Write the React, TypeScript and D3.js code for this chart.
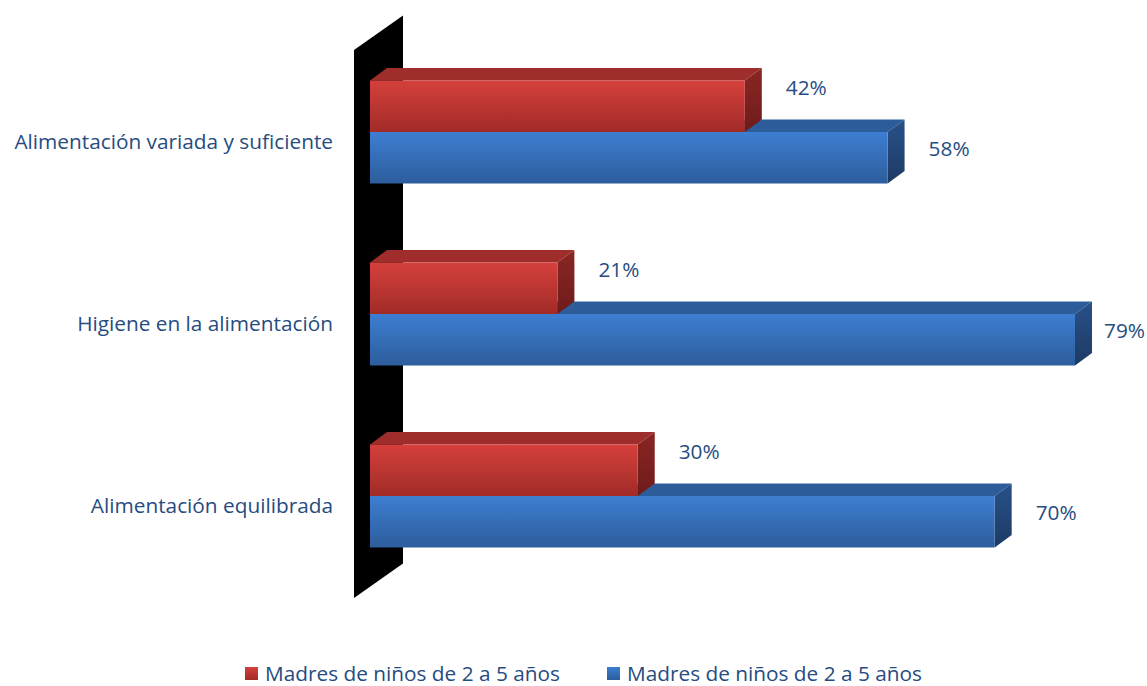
import React from "react";
import * as d3 from "d3";

const categories = [
  "Alimentación variada y suficiente",
  "Higiene en la alimentación",
  "Alimentación equilibrada",
];
const seriesNames = ["Madres de niños de 2 a 5 años", "Madres de niños de 2 a 5 años"];
const redValues = [42, 21, 30];
const blueValues = [58, 79, 70];

const W = 1147;
const H = 686;
const FONT = "'Open Sans', Lato, sans-serif";
const TEXT = "#264C80";
const FS = 20.8;

export default function App() {
  const x = d3.scaleLinear().domain([0, 100]).range([370, 1262.4]);
  const yBand = d3.scaleBand<string>().domain(categories).range([50, 596]).padding(0);
  const DX = 17;
  const DY = 12.5;
  const barH = 51.5;
  const wall = { xf: 354, xb: 403, yTopF: 50, yBotF: 598, dy: 34.5 };

  const series = [
    { values: redValues, grad: "gRed", top: "#9E2D2B", side: "gRedSide", offset: 0, labelDy: -17 },
    { values: blueValues, grad: "gBlue", top: "#2C5C99", side: "gBlueSide", offset: 1, labelDy: -7 },
  ];

  const x0 = x(0);

  return (
    <svg width={W} height={H} style={{ display: "block", position: "absolute", left: 0, top: 0 }}>
      <defs>
        <linearGradient id="gRed" x1="0" y1="0" x2="0" y2="1">
          <stop offset="0" stopColor="#D5403C" />
          <stop offset="1" stopColor="#A12B28" />
        </linearGradient>
        <linearGradient id="gBlue" x1="0" y1="0" x2="0" y2="1">
          <stop offset="0" stopColor="#3D7ED1" />
          <stop offset="1" stopColor="#2D5D9C" />
        </linearGradient>
        <linearGradient id="gRedSide" x1="0" y1="0" x2="0" y2="1">
          <stop offset="0" stopColor="#8A2624" />
          <stop offset="1" stopColor="#6E1C1B" />
        </linearGradient>
        <linearGradient id="gBlueSide" x1="0" y1="0" x2="0" y2="1">
          <stop offset="0" stopColor="#285189" />
          <stop offset="1" stopColor="#1D3A64" />
        </linearGradient>
      </defs>
      <rect width={W} height={H} fill="#fff" />

      <polygon
        points={`${wall.xf},${wall.yTopF} ${wall.xb},${wall.yTopF - wall.dy} ${wall.xb},${wall.yBotF - wall.dy} ${wall.xf},${wall.yBotF}`}
        fill="#000"
      />

      {categories.map((c) => (
        <text
          key={c}
          x={333}
          y={(yBand(c) as number) + yBand.bandwidth() / 2 + 2}
          textAnchor="end"
          dominantBaseline="middle"
          fontFamily={FONT}
          fontSize={FS}
          fill={TEXT}
        >
          {c}
        </text>
      ))}

      {categories.map((c, i) => {
        const center = (yBand(c) as number) + yBand.bandwidth() / 2 - 9;
        const groupTop = center - barH;
        return (
          <g key={c}>
            {series
              .slice()
              .reverse()
              .map((s) => {
                const v = s.values[i];
                const y0 = groupTop + s.offset * barH;
                const y1 = y0 + barH;
                const xe = x(v);
                return (
                  <g key={s.grad}>
                    <polygon
                      points={`${x0},${y0} ${x0 + DX},${y0 - DY} ${xe + DX},${y0 - DY} ${xe},${y0}`}
                      fill={s.top}
                    />
                    <polygon
                      points={`${xe},${y0} ${xe + DX},${y0 - DY} ${xe + DX},${y1 - DY} ${xe},${y1}`}
                      fill={`url(#${s.side})`}
                    />
                    <rect x={x0} y={y0} width={xe - x0} height={barH} fill={`url(#${s.grad})`} />
                  </g>
                );
              })}
            {series.map((s) => {
              const v = s.values[i];
              const y0 = groupTop + s.offset * barH;
              const lx = Math.min(x(v) + DX + 24, W - 43);
              return (
                <text
                  key={"l" + s.grad}
                  x={lx}
                  y={y0 + barH / 2 + s.labelDy}
                  dominantBaseline="middle"
                  fontFamily={FONT}
                  fontSize={FS}
                  fill={TEXT}
                >
                  {v}%
                </text>
              );
            })}
          </g>
        );
      })}

      {[0, 1].map((k) => {
        const lx = k === 0 ? 245 : 607;
        return (
          <g key={k}>
            <rect x={lx} y={667} width={13} height={13} fill={k === 0 ? "url(#gRed)" : "url(#gBlue)"} />
            <text
              x={lx + 20}
              y={675}
              dominantBaseline="middle"
              fontFamily={FONT}
              fontSize={FS}
              fill={TEXT}
            >
              {seriesNames[k]}
            </text>
          </g>
        );
      })}
    </svg>
  );
}
